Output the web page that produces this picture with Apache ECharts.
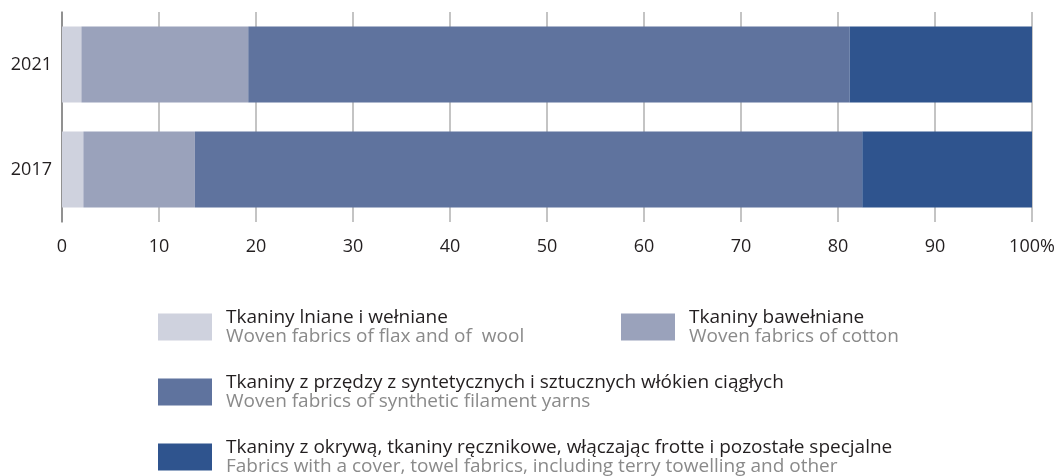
<!DOCTYPE html>
<html>
<head>
<meta charset="utf-8">
<script src="https://cdn.jsdelivr.net/npm/echarts@6/dist/echarts.min.js"></script>
<style>html,body{margin:0;padding:0;background:#fff}#c{width:1062px;height:476px}</style>
</head>
<body>
<div id="c"></div>
<script>
const categories = ['2017', '2021'];
const namesPl = [
  'Tkaniny lniane i wełniane',
  'Tkaniny bawełniane',
  'Tkaniny z przędzy z syntetycznych i sztucznych włókien ciągłych',
  'Tkaniny z okrywą, tkaniny ręcznikowe, włączając frotte i pozostałe specjalne'
];
const namesEn = [
  'Woven fabrics of flax and of  wool',
  'Woven fabrics of cotton',
  'Woven fabrics of synthetic filament yarns',
  'Fabrics with a cover, towel fabrics, including terry towelling and other'
];
const flaxWool = [2.2, 2.0];
const cotton = [11.5, 17.2];
const synthetic = [68.8, 62.0];
const coverTowel = [17.5, 18.8];
const xTicks = [0, 10, 20, 30, 40, 50, 60, 70, 80, 90, 100];
const colors = ['#cfd2de', '#9aa2bb', '#5f739e', '#2f548e'];

const FONT = '"Open Sans"';
const seriesData = [flaxWool, cotton, synthetic, coverTowel];
const series = seriesData.map((d, i) => ({
  name: namesPl[i],
  type: 'bar',
  stack: 'total',
  barWidth: 76,
  data: d,
  itemStyle: { color: colors[i] },
  emphasis: { disabled: true }
}));

const legendPos = [[158, 308], [621, 308], [158, 373], [158, 438]];
const legends = namesPl.map((n, i) => ({
  data: [n],
  left: legendPos[i][0],
  top: legendPos[i][1],
  padding: 0,
  itemWidth: 54,
  itemHeight: 27,
  icon: 'rect',
  selectedMode: false,
  formatter: name => '{a|' + name + '}\n{b|' + namesEn[namesPl.indexOf(name)] + '}',
  textStyle: {
    fontFamily: FONT,
    rich: {
      a: { fontFamily: FONT, fontSize: 19, color: '#231f20', lineHeight: 19, padding: [0, 0, 0, 9] },
      b: { fontFamily: FONT, fontSize: 19, color: '#8a8a8a', lineHeight: 19, padding: [0, 0, 0, 9] }
    }
  }
}));

const chart = echarts.init(document.getElementById('c'), null, { renderer: 'canvas' });
chart.setOption({
  animation: false,
  textStyle: { fontFamily: FONT },
  grid: { left: 62, right: 30, top: 12, height: 210 },
  xAxis: {
    type: 'value',
    min: xTicks[0],
    max: xTicks[xTicks.length - 1],
    interval: 10,
    axisLine: { show: false },
    axisTick: { show: false },
    splitLine: { show: true, lineStyle: { color: '#b0b0b0', width: 1.5 } },
    axisLabel: {
      fontFamily: FONT, fontSize: 18, color: '#231f20', margin: 16,
      formatter: v => v === 100 ? '100%' : String(v)
    }
  },
  yAxis: {
    type: 'category',
    data: categories,
    axisLine: { show: true, lineStyle: { color: '#808080', width: 1.5 } },
    axisTick: { show: false },
    axisLabel: { fontFamily: FONT, fontSize: 18, color: '#231f20', margin: 10 }
  },
  legend: legends,
  series: series
});
</script>
</body>
</html>
